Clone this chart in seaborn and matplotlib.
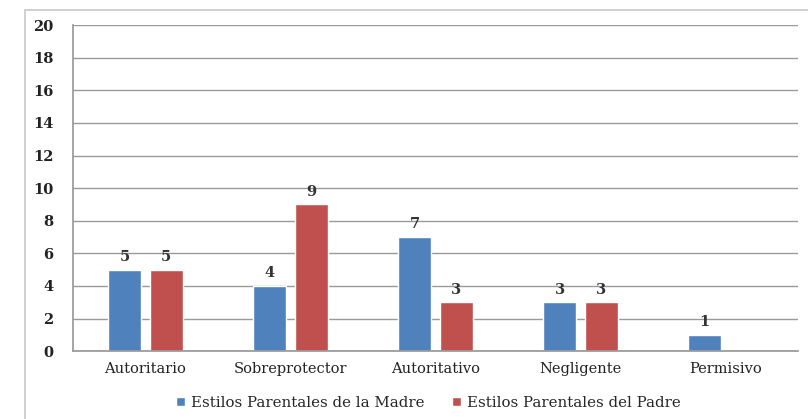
import pandas as pd
import matplotlib.pyplot as plt
import matplotlib.patches as mpatches
import seaborn as sns

# data
estilos = ["Autoritario", "Sobreprotector", "Autoritativo", "Negligente", "Permisivo"]
madre = [5, 4, 7, 3, 1]
padre = [5, 9, 3, 3, 0]
series = ["Estilos Parentales de la Madre", "Estilos Parentales del Padre"]
colores = ["#4F81BD", "#C0504D"]

df = pd.DataFrame({
    "estilo": estilos * 2,
    "valor": madre + padre,
    "serie": [series[0]] * len(estilos) + [series[1]] * len(estilos),
})

sns.set_theme(style="white")
plt.rcParams["font.family"] = ["DejaVu Serif"]

fig = plt.figure(figsize=(8.08, 4.19), dpi=100)
ax = fig.add_axes([0.0903, 0.162, 0.8973, 0.778])

# outer chart frame
fig.patches.append(mpatches.Rectangle((25 / 808, -0.01), 1.0, 1 - 10 / 419 + 0.01,
                                      transform=fig.transFigure, fill=False,
                                      edgecolor="#c8c8c8", linewidth=1.2))

sns.barplot(data=df, x="estilo", y="valor", hue="serie", palette=colores,
            width=0.57, gap=0.2, ax=ax, legend=True, saturation=1)

for cont in ax.containers:
    labels = [f"{int(v)}" if v > 0 else "" for v in cont.datavalues]
    ax.bar_label(cont, labels=labels, padding=4, fontsize=10.5, fontweight="bold", color="#333333")

ax.set_ylim(0, 20)
ax.set_yticks(range(0, 21, 2))
ax.set_xlim(-0.5, 4.5)
ax.yaxis.grid(True, color="#999999", linewidth=1)
ax.set_axisbelow(True)
ax.set_xlabel("")
ax.set_ylabel("")
for s in ["top", "right"]:
    ax.spines[s].set_visible(False)
ax.spines["left"].set_color("#999999")
ax.spines["bottom"].set_color("#999999")
ax.tick_params(axis="both", length=0, labelsize=10.5, colors="#222222", pad=8)
ax.tick_params(axis="y", pad=14)
for t in ax.get_yticklabels():
    t.set_fontweight("bold")

ax.legend(loc="upper center", bbox_to_anchor=(0.49, -0.095), ncol=2, frameon=False,
          fontsize=10.8, handlelength=0.6, handleheight=0.6, handletextpad=0.4,
          columnspacing=1.8)

plt.savefig("out.png", dpi=100)
